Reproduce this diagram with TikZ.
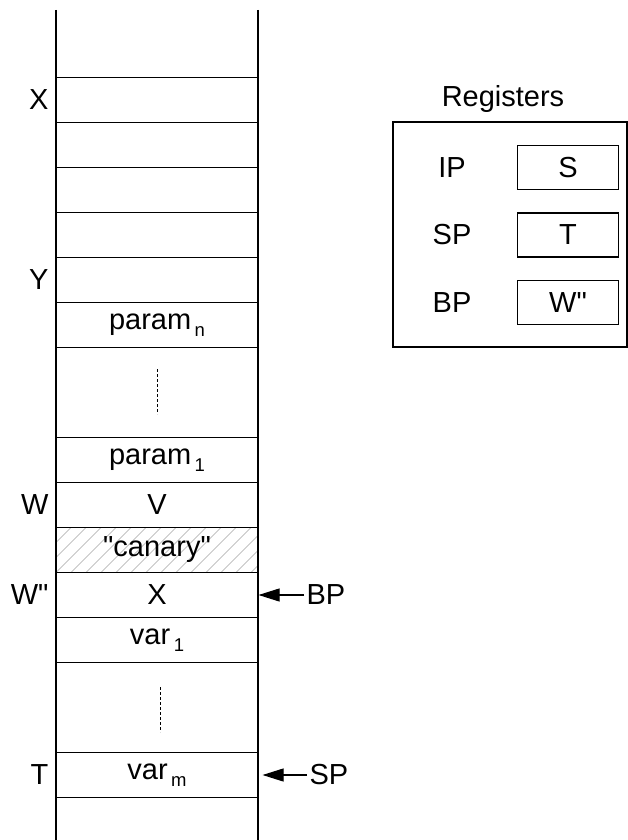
\documentclass[tikz,border=0pt]{standalone}
\usepackage{fontspec}
\setmainfont{Liberation Sans}
\usetikzlibrary{arrows.meta}
\newcommand{\stsub}[1]{\hspace{3.5pt}\raisebox{-7pt}{\fontsize{18.5}{20}\selectfont #1}}

\begin{document}
\begin{tikzpicture}[x=1pt,y=-1pt,line width=1.1pt,
    every node/.style={font=\fontsize{29}{33}\selectfont},
    cell/.style={draw,minimum width=202pt,minimum height=45pt,inner sep=0pt},
    reg/.style={draw,minimum width=101pt,minimum height=44pt,inner sep=0pt},
    lbl/.style={anchor=east,inner sep=0pt},
    ptr/.style={->,>={Triangle[length=21pt,width=13pt]}},
    gapline/.style={line width=0.8pt,dash pattern=on 3pt off 2pt},
    hatch/.style={line width=0.6pt,gray!70}]
        \useasboundingbox (0,0) rectangle (628,840);
        % the stack
        \draw (56,10) -- (56,840);
        \draw (258,10) -- (258,840);
        \node[cell] (c1) at (157,100) {};
        \node[cell] (c2) at (157,145) {};
        \node[cell] (c3) at (157,190) {};
        \node[cell] (c4) at (157,235) {};
        \node[cell] (c5) at (157,280) {};
        \node[cell] (pn) at (157,325) {param\stsub{n}};
        \draw[gapline] (157,369) -- (157,414);
        \node[cell] (p1) at (157,460) {param\stsub{1}};
        \node[cell] (v) at (157,505) {V};
        \begin{scope}
            \clip (56,527.5) rectangle (258,572.5);
            \foreach \i in {-3,...,14}
                \draw[hatch] (56+15*\i,572.5) -- ++(45,-45);
        \end{scope}
        \node[cell] (can) at (157,550) {\textquotedbl canary\textquotedbl};
        \node[cell] (x) at (157,595) {X};
        \node[cell] (v1) at (157,640) {var\stsub{1}};
        \draw[gapline] (160,687) -- (160,732);
        \node[cell] (vm) at (157,775) {var\stsub{m}};
        % addresses
        \node[lbl] (lx) at (49,100) {X};
        \node[lbl] (ly) at (49,280) {Y};
        \node[lbl] (lw) at (49,505) {W};
        \node[lbl] (lwpp) at (49,595) {W\textquotedbl};
        \node[lbl] (lt) at (49,775) {T};
        % pointers
        \node[anchor=west,inner sep=0pt] (bp) at (306,595) {BP};
        \draw[ptr,shorten <=2pt] (bp.west) -- (x.east);
        \node[anchor=west,inner sep=0pt] (sp) at (309,775) {SP};
        \draw[ptr,shorten <=2pt,shorten >=4pt] (sp.west) -- (vm.east);
        % registers
        \node (rtitle) at (503,99) {Registers};
        \draw (393,122) rectangle (627,347);
        \node (rip) at (452,167.5) {IP};
        \node (rsp) at (452,235) {SP};
        \node (rbp) at (452,302.5) {BP};
        \node[reg] (vip) at (568,167.5) {S};
        \node[reg] (vsp) at (568,235) {T};
        \node[reg] (vbp) at (568,302.5) {W\textquotedbl};
    \end{tikzpicture}
\end{document}
